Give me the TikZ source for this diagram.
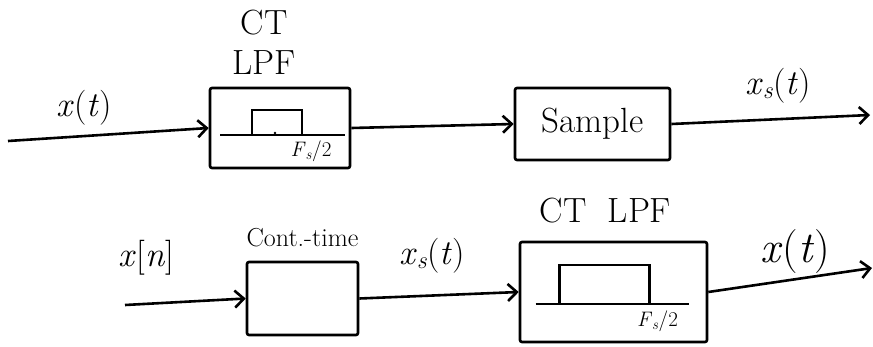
\documentclass[tikz,border=0pt]{standalone}
\usepackage{amsmath}
\usetikzlibrary{
  arrows.meta,
  positioning,
  calc
}
\newcommand{\sgl}[2]{\textit{x}\textsubscript{\textit{#1}}#2}
\tikzset{
  blk/.style={draw, line width=2.6pt, rounded corners=2pt, inner sep=0pt},
  wire/.style={line width=2.6pt},
  sig/.style={wire, -{Straight Barb[length=9pt, width=17pt]}},
  lbl/.style={font=\fontsize{35}{40}\selectfont, inner sep=0pt},
  biglbl/.style={font=\fontsize{44}{48}\selectfont, inner sep=0pt},
  small/.style={font=\fontsize{26}{30}\selectfont, inner sep=0pt},
  freq/.style={font=\fontsize{21}{24}\selectfont, inner sep=0pt},
  pass/.style={line width=2.4pt}
}

\begin{document}
\begin{tikzpicture}[x=1pt, y=-1pt]
  \useasboundingbox (0,0) rectangle (873,346);

  % sampling chain
  \node[blk, minimum width=140pt, minimum height=80pt] (lpfA) at (280,128) {};
  \node[blk, lbl, minimum width=155pt, minimum height=72pt] (smp) at (592.5,124) {Sample};
  \node[lbl, align=center, above=12pt of lpfA, xshift=-16pt] (lpfAname) {CT\\LPF};
  \coordinate (inA) at (8,141);
  \coordinate (outA) at (870,115);
  \draw[sig] (inA) -- (lpfA.west);
  \draw[sig] (lpfA.east) -- (smp.west);
  \draw[sig] (smp.east) -- (outA);
  \node[lbl] (xin) at (84,108) {\sgl{}{(\textit{t})}};
  \node[lbl] (xsA) at (778,86) {\sgl{s}{(\textit{t})}};

  % passband of the first filter
  \begin{scope}[shift={(lpfA.center)}]
    \draw[pass] (-60,7) -- (65,7);
    \draw[pass] (-28,7) -- (-28,-18) -- (22,-18) -- (22,7);
    \fill (-5,5) circle (1.3pt);
    \node[freq] (fsA) at (31,23) {\textit{F}\textsubscript{\textit{s}}/2};
  \end{scope}

  % reconstruction chain
  \node[blk, minimum width=111pt, minimum height=73pt] (cont) at (302.5,298.5) {};
  \node[blk, minimum width=187pt, minimum height=100pt] (lpfB) at (613.5,292) {};
  \node[small, above=14pt of cont] (contname) {Cont.-time};
  \node[lbl, above=17pt of lpfB, xshift=-8pt] (lpfBname) {CT\ \ LPF};
  \coordinate (inB) at (125,305);
  \coordinate (outB) at (872,268);
  \draw[sig] (inB) -- (cont.west);
  \draw[sig] (cont.east) -- (lpfB.west);
  \draw[sig] (lpfB.east) -- (outB);
  \node[lbl] (xn) at (146,258) {\sgl{}{[\textit{n}]}};
  \node[lbl] (xsB) at (432,256) {\sgl{s}{(\textit{t})}};
  \node[biglbl] (xout) at (795,252) {\sgl{}{(\textit{t})}};

  % passband of the second filter
  \begin{scope}[shift={(lpfB.center)}]
    \draw[pass] (-78,12) -- (75,12);
    \draw[pass] (-54,12) -- (-54,-27) -- (36,-27) -- (36,12);
    \node[freq] (fsB) at (44,29) {\textit{F}\textsubscript{\textit{s}}/2};
  \end{scope}
\end{tikzpicture}
\end{document}
